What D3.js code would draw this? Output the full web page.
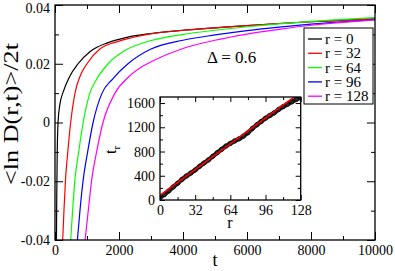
<!DOCTYPE html>
<html>
<head>
<meta charset="utf-8">
<script src="https://cdn.jsdelivr.net/npm/d3@7"></script>
<style>
  html, body { margin: 0; padding: 0; background: #fff; }
  svg text { font-family: "Liberation Serif", "Times New Roman", serif; fill: #000; }
</style>
</head>
<body>
<div id="chart"></div>
<script>
// main panel: <ln D(r,t)>/2t against t, one curve per r
const seriesLabels = ["r = 0", "r = 32", "r = 64", "r = 96", "r = 128"];
const seriesColors = ["#000000", "#ff0000", "#00ff00", "#0000ff", "#ff00ff"];

const tR0 = [45, 55, 70, 95, 150, 260, 450, 720, 1100, 1660, 2250, 3000, 4000, 5000, 6000, 7000, 8000, 9000, 10000];
const vR0 = [-0.04, -0.025, -0.01, 0, 0.006, 0.0105, 0.0155, 0.02, 0.0242, 0.0272, 0.029, 0.0303, 0.0314, 0.0322, 0.033, 0.0337, 0.0343, 0.0348, 0.0353];

const tR32 = [240, 280, 330, 400, 490, 625, 800, 1000, 1400, 2000, 2650, 3000, 4000, 5000, 6000, 7000, 8000, 9000, 10000];
const vR32 = [-0.04, -0.03, -0.0192, -0.01, 0, 0.01, 0.0162, 0.02, 0.025, 0.0277, 0.0295, 0.0302, 0.0314, 0.0322, 0.033, 0.0337, 0.0343, 0.0348, 0.0353];

const tR64 = [490, 550, 625, 740, 880, 1090, 1300, 1660, 2200, 3000, 4000, 5000, 6000, 7000, 8000, 9000, 10000];
const vR64 = [-0.04, -0.03, -0.0192, -0.01, 0, 0.01, 0.0147, 0.02, 0.0246, 0.0279, 0.03, 0.0314, 0.0326, 0.0336, 0.0344, 0.0351, 0.0357];

const tR96 = [700, 780, 885, 1020, 1190, 1470, 1800, 2280, 3000, 4000, 5000, 6000, 7000, 8000, 9000, 10000];
const vR96 = [-0.04, -0.03, -0.0192, -0.01, 0, 0.01, 0.0148, 0.02, 0.025, 0.028, 0.0298, 0.0313, 0.0325, 0.0335, 0.0343, 0.035];

const tR128 = [940, 1040, 1150, 1300, 1500, 1875, 2300, 2750, 3100, 4000, 5000, 6000, 7000, 8000, 9000, 10000];
const vR128 = [-0.04, -0.03, -0.0192, -0.01, 0, 0.01, 0.0155, 0.0192, 0.0212, 0.0252, 0.028, 0.0301, 0.0317, 0.0331, 0.0341, 0.0349];

const mainXTicks = [0, 2000, 4000, 6000, 8000, 10000];
const mainXMinor = [1000, 3000, 5000, 7000, 9000];
const mainYTicks = [-0.04, -0.02, 0, 0.02, 0.04];
const mainYMinor = [-0.03, -0.01, 0.01, 0.03];

// inset: t_r against r, data points and a straight fit
const insetR = [0, 4, 8, 12, 16, 20, 24, 28, 32, 36, 40, 44, 48, 52, 56, 60, 64, 68, 72, 76, 80, 84, 88, 92, 96, 100, 104, 108, 112, 116, 120, 124, 128];
const insetT = [40, 90, 150, 215, 275, 340, 395, 445, 495, 555, 610, 660, 720, 780, 835, 890, 935, 975, 1010, 1055, 1110, 1180, 1240, 1295, 1350, 1395, 1440, 1495, 1540, 1580, 1620, 1660, 1695];
const fitR = [0, 128];
const fitT = [77, 1780];

const insetXTicks = [0, 32, 64, 96, 128];
const insetXMinor = [16, 48, 80, 112];
const insetYTicks = [0, 400, 800, 1200, 1600];
const insetYMinor = [200, 600, 1000, 1400];

const deltaLabel = "\u0394 = 0.6";

const serif = "\"Liberation Serif\", \"Times New Roman\", serif";

let width = 395, height = 271;
let svg = d3.select("#chart")
            .append("svg")
            .attr("width", width)
            .attr("height", height)
            .attr("font-family", serif);

let x = d3.scaleLinear().domain([0, 10000]).range([55, 375]);
let y = d3.scaleLinear().domain([-0.04, 0.04]).range([240, 5]);

function fmtY(d) {
  return d === 0 ? "0" : String(d); // plain hyphen minus, like the original
}

// ticks point inward on all four sides
function addAxes(g, xs, ys, o) {
  let [x0, x1] = xs.range();
  let [y0, y1] = ys.range();
  g.append("g").attr("transform", `translate(0,${y0})`)
    .call(d3.axisBottom(xs).tickValues(o.xt).tickSize(-o.major).tickSizeOuter(0).tickPadding(o.pad).tickFormat(o.xf));
  g.append("g").attr("transform", `translate(0,${y0})`)
    .call(d3.axisBottom(xs).tickValues(o.xm).tickSize(-o.minor).tickSizeOuter(0).tickFormat(""));
  g.append("g").attr("transform", `translate(0,${y1})`)
    .call(d3.axisTop(xs).tickValues(o.xt.concat(o.xm)).tickSize(0).tickSizeOuter(0).tickFormat(""))
    .selectAll(".tick line").attr("y2", (d) => o.xt.includes(d) ? o.major : o.minor);
  g.append("g").attr("transform", `translate(${x0},0)`)
    .call(d3.axisLeft(ys).tickValues(o.yt).tickSize(-o.major).tickSizeOuter(0).tickPadding(o.pad).tickFormat(o.yf));
  g.append("g").attr("transform", `translate(${x0},0)`)
    .call(d3.axisLeft(ys).tickValues(o.ym).tickSize(-o.minor).tickSizeOuter(0).tickFormat(""));
  g.append("g").attr("transform", `translate(${x1},0)`)
    .call(d3.axisRight(ys).tickValues(o.yt.concat(o.ym)).tickSize(0).tickSizeOuter(0).tickFormat(""))
    .selectAll(".tick line").attr("x2", (d) => o.yt.includes(d) ? -o.major : -o.minor);
  g.selectAll(".domain").remove();
  g.selectAll("g").attr("font-family", serif);
  g.selectAll(".tick line").attr("stroke", "#000");
  g.selectAll(".tick text")
    .style("font-size", o.font + "px")
    .attr("fill", "#000");
  g.append("rect")
    .attr("x", x0).attr("y", y1)
    .attr("width", x1 - x0).attr("height", y0 - y1)
    .attr("fill", "none").attr("stroke", "#000").attr("stroke-width", 1.3);
}

svg.append("defs").append("clipPath").attr("id", "clipMain")
   .append("rect").attr("x", 55).attr("y", 5).attr("width", 320).attr("height", 235);

let curves = [[tR0, vR0], [tR32, vR32], [tR64, vR64], [tR96, vR96], [tR128, vR128]];
let line = d3.line().x((d) => x(d[0])).y((d) => y(d[1])).curve(d3.curveMonotoneX);
let curveLayer = svg.append("g").attr("clip-path", "url(#clipMain)");
curves.forEach((c, i) => {
  curveLayer.append("path")
    .datum(d3.zip(c[0], c[1]))
    .attr("d", line)
    .attr("fill", "none")
    .attr("stroke", seriesColors[i])
    .attr("stroke-width", 1.2);
});

let mainAxes = svg.append("g");
addAxes(mainAxes, x, y, {
  xt: mainXTicks, xm: mainXMinor, yt: mainYTicks, ym: mainYMinor,
  major: 8, minor: 4, pad: 5, font: 14,
  xf: d3.format("d"), yf: fmtY
});
// keep the top label inside the picture
mainAxes.selectAll(".tick text").filter((d) => d === 0.04).attr("dy", "0.5em");

// axis titles
svg.append("text")
   .attr("transform", "translate(18,114) rotate(-90)")
   .attr("text-anchor", "middle")
   .attr("textLength", 142)
   .attr("lengthAdjust", "spacingAndGlyphs")
   .style("font-size", "20px")
   .text("<ln D(r,t)>/2t");
svg.append("text")
   .attr("x", 215).attr("y", 266)
   .attr("text-anchor", "middle")
   .style("font-size", "18px")
   .text("t");

svg.append("text")
   .attr("x", 207).attr("y", 63)
   .style("font-size", "17px")
   .text(deltaLabel);

// legend
let legend = svg.append("g");
legend.append("rect")
  .attr("x", 304).attr("y", 28).attr("width", 69).attr("height", 76)
  .attr("fill", "#fff").attr("stroke", "#000").attr("stroke-width", 1);
seriesLabels.forEach((lab, i) => {
  let ly = 39 + i * 14.3;
  legend.append("line")
    .attr("x1", 308).attr("x2", 322).attr("y1", ly).attr("y2", ly)
    .attr("stroke", seriesColors[i]).attr("stroke-width", 1.3);
  legend.append("text")
    .attr("x", 325).attr("y", ly + 5)
    .style("font-size", "15px")
    .text(lab);
});

// inset
let ix = d3.scaleLinear().domain([0, 128]).range([160, 300.7]);
let iy = d3.scaleLinear().domain([0, 1700]).range([200, 97]);
let inset = svg.append("g");
inset.append("rect")
  .attr("x", 160).attr("y", 97).attr("width", 140.7).attr("height", 103)
  .attr("fill", "#fff");
svg.select("defs").append("clipPath").attr("id", "clipInset")
   .append("rect").attr("x", 160).attr("y", 97).attr("width", 140.7).attr("height", 103);
let iline = d3.line().x((d) => ix(d[0])).y((d) => iy(d[1]));
let insetData = d3.zip(insetR, insetT);
let insetLayer = inset.append("g").attr("clip-path", "url(#clipInset)");
insetLayer.append("path")
  .datum(insetData)
  .attr("d", iline)
  .attr("fill", "none")
  .attr("stroke", "#2a2a2a")
  .attr("stroke-width", 4.5)
  .attr("stroke-linejoin", "round");
insetLayer.selectAll("circle")
  .data(insetData)
  .enter()
  .append("circle")
  .attr("cx", (d) => ix(d[0]))
  .attr("cy", (d) => iy(d[1]))
  .attr("r", 2.2)
  .attr("fill", "none")
  .attr("stroke", "#000")
  .attr("stroke-width", 0.8);
insetLayer.append("path")
  .datum(d3.zip(fitR, fitT))
  .attr("d", iline)
  .attr("fill", "none")
  .attr("stroke", "#ff0000")
  .attr("stroke-width", 1.5);

addAxes(inset.append("g"), ix, iy, {
  xt: insetXTicks, xm: insetXMinor, yt: insetYTicks, ym: insetYMinor,
  major: 5, minor: 3, pad: 5, font: 14,
  xf: d3.format("d"), yf: d3.format("d")
});

inset.append("text")
  .attr("x", 230).attr("y", 228)
  .attr("text-anchor", "middle")
  .style("font-size", "16px")
  .text("r");
let tr = inset.append("text")
  .attr("transform", "translate(116,150) rotate(-90)")
  .attr("text-anchor", "middle")
  .style("font-size", "16px");
tr.append("tspan").text("t");
tr.append("tspan").attr("dy", 4).style("font-size", "11px").text("r");

// every label in the same serif face as the reference
svg.selectAll("text").style("font-family", serif);
</script>
</body>
</html>
